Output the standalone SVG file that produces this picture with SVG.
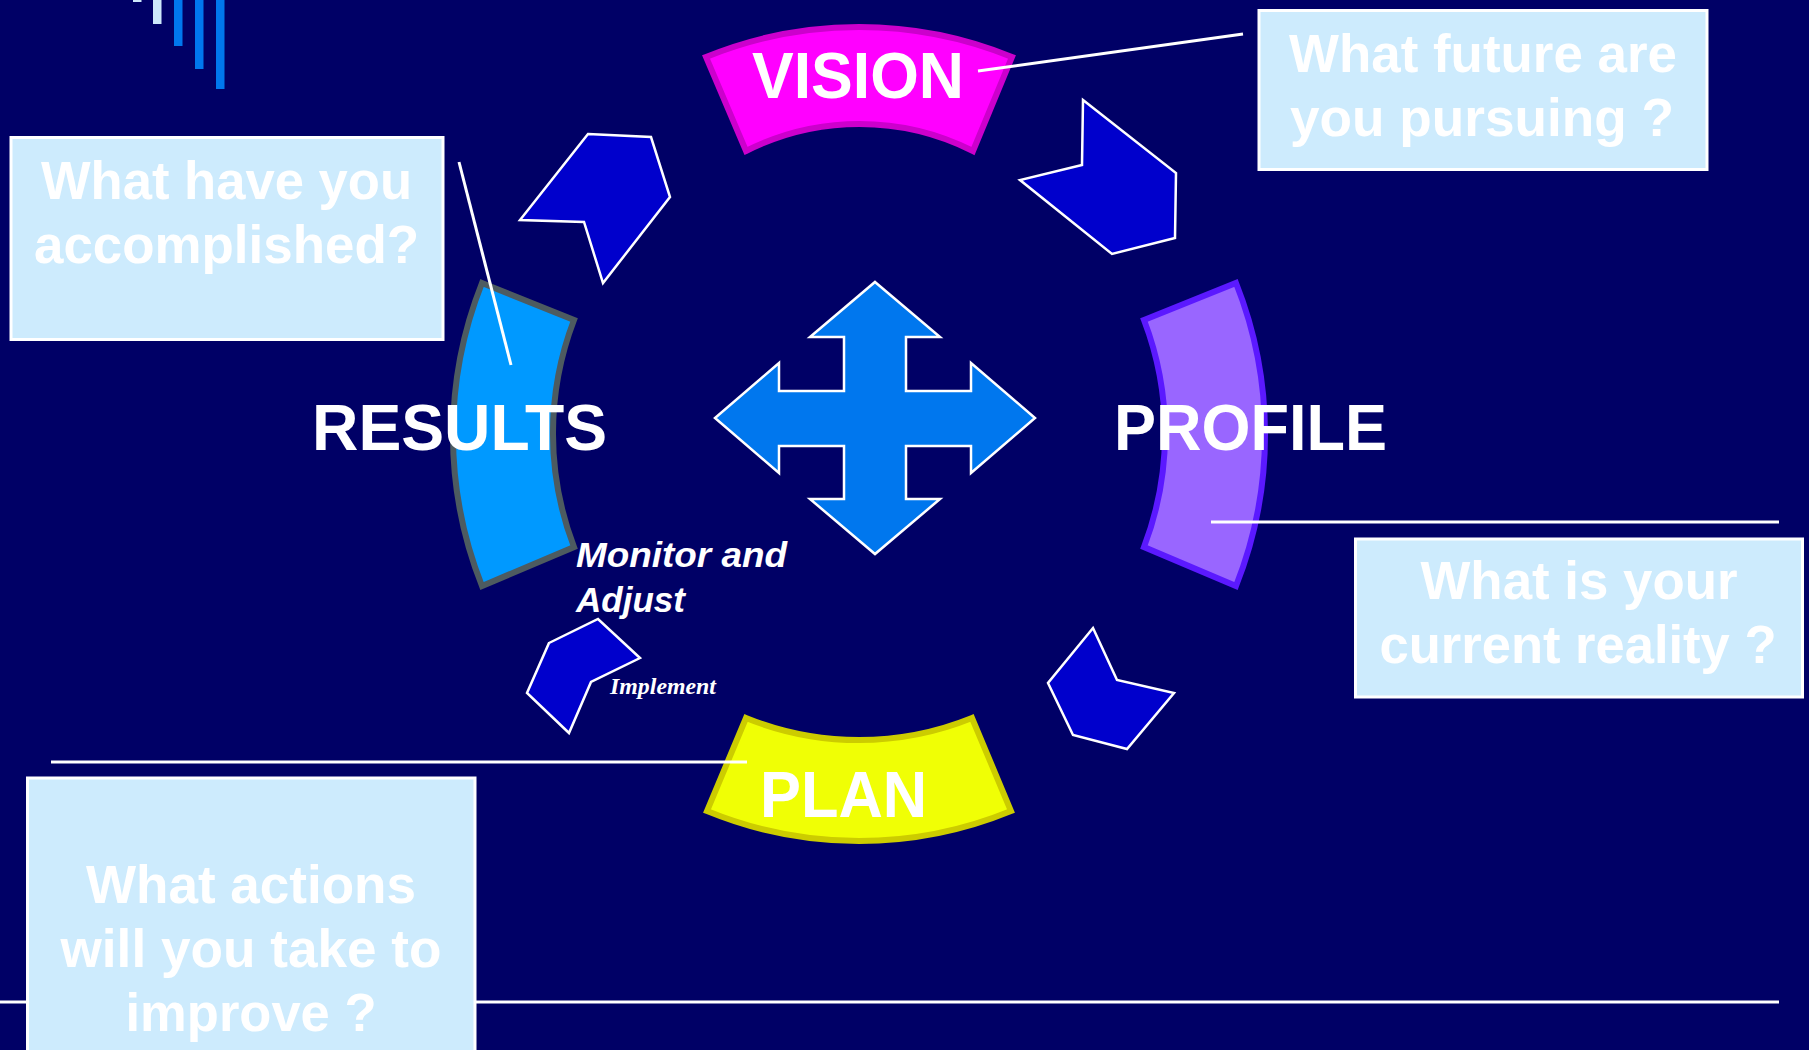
<svg xmlns="http://www.w3.org/2000/svg" width="1809" height="1050" viewBox="0 0 1809 1050">
<style>
.box{fill:#cdebfd;stroke:#ffffff;stroke-width:3}
.bt{font-family:"Liberation Sans",Arial,sans-serif;font-weight:bold;font-size:54px;fill:#ffffff;text-anchor:middle}
.lbl{font-family:"Liberation Sans",Arial,sans-serif;font-weight:bold;font-size:64px;fill:#ffffff}
.pent{fill:#0000cc;stroke:#ffffff;stroke-width:2.5;stroke-linejoin:miter}
.lead{stroke:#ffffff;stroke-width:3;fill:none}
</style>
<rect x="0" y="0" width="1809" height="1050" fill="#000066"/>
<g id="bars">
<rect x="133" y="0" width="8.5" height="2" fill="#cde8fb"/>
<rect x="153" y="0" width="8.5" height="24" fill="#cde8fb"/>
<rect x="174" y="0" width="8.5" height="46" fill="#0077ee"/>
<rect x="195" y="0" width="8.5" height="69" fill="#0077ee"/>
<rect x="216" y="0" width="8.5" height="89" fill="#0077ee"/>
</g>
<g id="arrow-results-vision"><polygon class="pent" points="588,134 651,137 670,197 603,283 584,222 520,220"/></g>
<g id="arrow-vision-profile"><polygon class="pent" points="1083,100 1176,173 1175,238 1112,254 1020,180 1082,165"/></g>
<g id="arrow-profile-plan"><polygon class="pent" points="1093,628 1117,680 1174,693 1127,749 1073,735 1048,683"/></g>
<g id="arrow-plan-results"><polygon class="pent" points="549,643 598,619 640,658 591,682 569,733 527,693"/></g>
<g id="cross">
<polygon fill="#0077ee" stroke="#ffffff" stroke-width="2.5" points="875,282 940,337 906,337 906,391 971,391 971,363 1035,418 971,473 971,446 906,446 906,499 940,499 875,554 810,499 844,499 844,446 779,446 779,473 715,418 779,363 779,391 844,391 844,337 810,337"/>
</g>
<g id="vision">
<path d="M706,57 A405,405 0 0 1 1012,57 L973,151 A252,252 0 0 0 746,151 Z" fill="#ff00ff" stroke="#cc00cc" stroke-width="6"/>
<text class="lbl" x="752" y="98" textLength="212" lengthAdjust="spacingAndGlyphs" font-size="66">VISION</text>
</g>
<g id="profile">
<path d="M1144,320 L1236,283 A410,410 0 0 1 1236,586 L1144,547 A317,317 0 0 0 1144,320 Z" fill="#9966ff" stroke="#5b19ff" stroke-width="6"/>
<text class="lbl" x="1114" y="450" textLength="273" lengthAdjust="spacingAndGlyphs">PROFILE</text>
</g>
<g id="plan">
<path d="M746,718 A301,301 0 0 0 972,718 L1011,811 A400,400 0 0 1 707,811 Z" fill="#f0ff05" stroke="#cccc00" stroke-width="6"/>
<text class="lbl" x="760" y="817" textLength="167" lengthAdjust="spacingAndGlyphs">PLAN</text>
</g>
<g id="results">
<path d="M482,283 L574,320 A317,317 0 0 0 574,547 L482,586 A410,410 0 0 1 482,283 Z" fill="#0099ff" stroke="#4d5b60" stroke-width="6"/>
<text class="lbl" x="312" y="450" textLength="295" lengthAdjust="spacingAndGlyphs">RESULTS</text>
</g>
<g id="monitor-label">
<text font-family="'Liberation Sans',Arial,sans-serif" font-weight="bold" font-style="italic" font-size="35" fill="#ffffff"><tspan x="576" y="567" textLength="211" lengthAdjust="spacingAndGlyphs">Monitor and</tspan><tspan x="576" y="612">Adjust</tspan></text>
</g>
<g id="implement-label">
<text x="610" y="694" font-family="'Liberation Serif','Times New Roman',serif" font-weight="bold" font-style="italic" font-size="23" fill="#ffffff" textLength="106" lengthAdjust="spacingAndGlyphs">Implement</text>
</g>
<g id="connectors">
<line class="lead" x1="978" y1="71" x2="1243" y2="34" stroke-width="2.5"/>
<line class="lead" x1="459" y1="162" x2="511" y2="365" stroke-width="2.5"/>
<line class="lead" x1="1211" y1="522" x2="1779" y2="522"/>
<line class="lead" x1="51" y1="762" x2="747" y2="762"/>
<line class="lead" x1="0" y1="1002" x2="1779" y2="1002"/>
</g>
<g id="box-results">
<rect class="box" x="11" y="137.5" width="432" height="202"/>
<text class="bt" x="226.5" y="199" textLength="371" lengthAdjust="spacingAndGlyphs">What have you</text>
<text class="bt" x="226.5" y="263" textLength="385" lengthAdjust="spacingAndGlyphs">accomplished?</text>
</g>
<g id="box-vision">
<rect class="box" x="1259" y="10.5" width="448" height="159"/>
<text class="bt" x="1483" y="72" textLength="388" lengthAdjust="spacingAndGlyphs">What future are</text>
<text class="bt" x="1482" y="136" textLength="384" lengthAdjust="spacingAndGlyphs">you pursuing ?</text>
</g>
<g id="box-profile">
<rect class="box" x="1355.5" y="539" width="447" height="158"/>
<text class="bt" x="1579" y="599" textLength="317" lengthAdjust="spacingAndGlyphs">What is your</text>
<text class="bt" x="1578" y="663" textLength="397" lengthAdjust="spacingAndGlyphs">current reality ?</text>
</g>
<g id="box-plan">
<rect class="box" x="27.5" y="778" width="447.5" height="280"/>
<text class="bt" x="251" y="903" textLength="330" lengthAdjust="spacingAndGlyphs">What actions</text>
<text class="bt" x="251" y="967" textLength="381" lengthAdjust="spacingAndGlyphs">will you take to</text>
<text class="bt" x="251" y="1031" textLength="251" lengthAdjust="spacingAndGlyphs">improve ?</text>
</g>
</svg>
